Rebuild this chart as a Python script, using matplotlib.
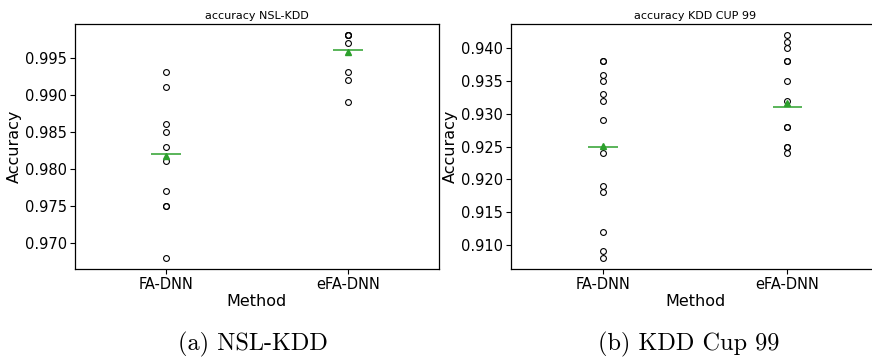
import matplotlib
matplotlib.use("Agg")
import matplotlib.pyplot as plt

METHODS = ["FA-DNN", "eFA-DNN"]

# accuracy per run
NSL_FA = [0.993, 0.991, 0.986, 0.985, 0.983, 0.981, 0.977, 0.975, 0.975, 0.968]
NSL_EFA = [0.998, 0.998, 0.998, 0.997, 0.993, 0.992, 0.989]
KDD_FA = [0.938, 0.938, 0.936, 0.935, 0.933, 0.932, 0.929, 0.924,
          0.919, 0.918, 0.912, 0.909, 0.908]
KDD_EFA = [0.942, 0.941, 0.940, 0.938, 0.938, 0.935, 0.932,
           0.928, 0.928, 0.925, 0.925, 0.924]

NSL_MEDIAN = [0.982, 0.996]
NSL_MEAN = [0.9817, 0.9957]
KDD_MEDIAN = [0.925, 0.931]
KDD_MEAN = [0.9251, 0.9316]

PANELS = [
    ("accuracy NSL-KDD", [NSL_FA, NSL_EFA], NSL_MEDIAN, NSL_MEAN, "(a) NSL-KDD"),
    ("accuracy KDD CUP 99", [KDD_FA, KDD_EFA], KDD_MEDIAN, KDD_MEAN, "(b) KDD Cup 99"),
]

GREEN = "#2ca02c"

fig = plt.figure(figsize=(8.72, 3.6), dpi=100)
# (left, width) -- right panel runs off the edge of the image like the original crop
boxes = [(0.086, 0.4174), (0.586, 0.4225)]

for (title, groups, medians, means, caption), (left, width) in zip(PANELS, boxes):
    ax = fig.add_axes([left, 0.253, width, 0.680])
    for i, vals in enumerate(groups):
        pos = i + 1
        ax.plot([pos] * len(vals), vals, linestyle="none", marker="o",
                markersize=4.2, markerfacecolor="none", markeredgecolor="black",
                markeredgewidth=0.8)
        ax.hlines(medians[i], pos - 0.08, pos + 0.08, color=GREEN, linewidth=1.1, zorder=3)
        ax.plot([pos], [means[i]], linestyle="none", marker="^", markersize=4.5,
                color=GREEN, zorder=4)
    ax.set_xlim(0.5, 2.5)
    ax.set_xticks([1, 2])
    ax.set_xticklabels(METHODS)
    ax.tick_params(labelsize=10.5, length=3.5, width=0.8, pad=2.5)
    ax.set_xlabel("Method", fontsize=11.5, labelpad=1)
    ax.set_ylabel("Accuracy", fontsize=11.5, labelpad=2)
    ax.set_title(title, fontsize=8, pad=4)
    for sp in ax.spines.values():
        sp.set_linewidth(0.9)
    fig.text(left + 0.4174 / 2 - 0.005, 0.042, caption, ha="center", va="center",
             fontsize=17.5, family="cmr10")

fig.savefig("out.png", dpi=100)
